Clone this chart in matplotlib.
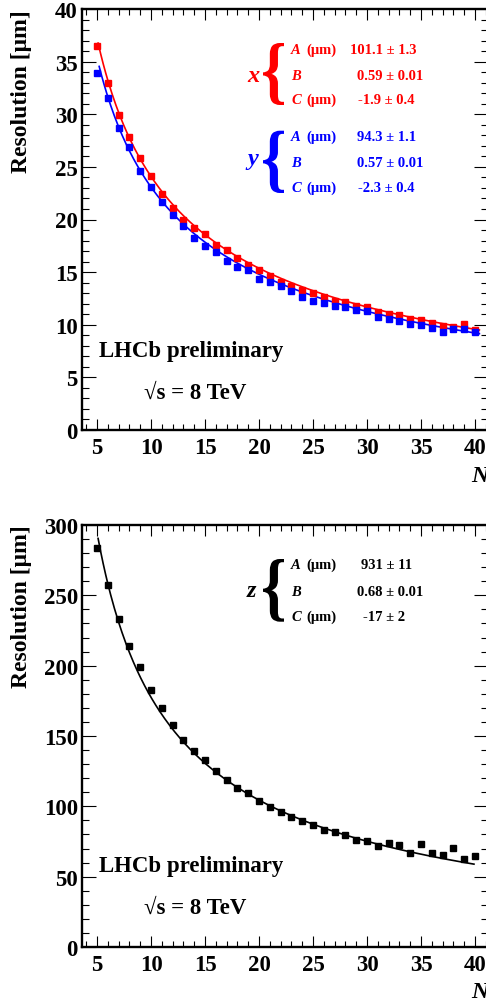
import matplotlib
matplotlib.use("Agg")
import numpy as np
import matplotlib.pyplot as plt
from matplotlib.ticker import MultipleLocator
from matplotlib.textpath import TextPath
from matplotlib.patches import PathPatch
from matplotlib.font_manager import FontProperties
from matplotlib.transforms import Affine2D

plt.rcParams['font.family'] = ['Liberation Serif', 'DejaVu Serif']
plt.rcParams['font.weight'] = 'bold'

# number of tracks in the vertex
n_tracks = list(range(5, 41))

# resolution in um
res_x = [36.5, 32.95, 29.9, 27.8, 25.85, 24.15, 22.45, 21.1, 20.0, 19.2,
         18.6, 17.6, 17.07, 16.3, 15.65, 15.24, 14.6, 14.07, 13.65, 13.27,
         13.0, 12.6, 12.29, 12.13, 11.8, 11.65, 11.2, 11.0, 10.9, 10.54,
         10.48, 10.16, 9.84, 9.78, 10.1, 9.46]
res_y = [33.9, 31.5, 28.7, 26.9, 24.6, 23.1, 21.65, 20.4, 19.4, 18.25,
         17.45, 16.9, 16.03, 15.5, 15.17, 14.38, 14.03, 13.65, 13.17, 12.6,
         12.3, 12.06, 11.8, 11.65, 11.4, 11.27, 10.7, 10.54, 10.38, 10.06,
         10.0, 9.65, 9.3, 9.6, 9.6, 9.33]
res_z = [283.4, 257.3, 233.2, 214.2, 199.3, 182.9, 169.9, 157.8, 147.0, 139.1,
         132.9, 124.9, 118.5, 113.0, 109.5, 104.0, 99.3, 96.2, 92.6, 89.6,
         86.9, 83.4, 81.5, 79.8, 76.3, 75.6, 72.0, 73.9, 72.5, 66.8,
         73.2, 66.8, 65.2, 70.2, 62.3, 64.7]

# fit sigma = A / N^B + C
fit_x = [101.1, 0.59, -1.9]
fit_y = [94.3, 0.57, -2.3]
fit_z = [931.0, 0.68, -17.0]
range_x = [5.1, 40.4]
range_y = [5.2, 40.4]
range_z = [5.1, 39.9]

par_names = ["A", "B", "C"]
par_units = ["(μm)", "", "(μm)"]
text_x = ["101.1 ± 1.3", "0.59 ± 0.01", "-1.9 ± 0.4"]
text_y = ["94.3 ± 1.1", "0.57 ± 0.01", "-2.3 ± 0.4"]
text_z = ["931 ± 11", "0.68 ± 0.01", "-17 ± 2"]

W, H = 486, 1003
fig = plt.figure(figsize=(W / 100, H / 100), dpi=100)


def fx(px):
    return px / W


def fy(py):
    return 1 - py / H


def brace(x0, x1, y0, y1, color):
    fp = FontProperties(family="Liberation Serif", weight="bold")
    tp = TextPath((0, 0), "{", size=100, prop=fp)
    ext = tp.get_extents()
    tr = (Affine2D().translate(-ext.x0, -ext.y0)
          .scale((x1 - x0) / ext.width, (y1 - y0) / ext.height)
          .translate(x0, H - y1).scale(1 / W, 1 / H))
    fig.add_artist(PathPatch(tr.transform_path(tp), transform=fig.transFigure,
                             facecolor=color, lw=0))


def fit_curve(p, r):
    n = np.linspace(r[0], r[1], 300)
    return n, p[0] / n ** p[1] + p[2]


def style_axes(ax, ymax, ymaj, ymin):
    ax.set_xlim(3.61, 41.2)
    ax.set_ylim(0, ymax)
    ax.xaxis.set_major_locator(MultipleLocator(5))
    ax.xaxis.set_minor_locator(MultipleLocator(1))
    ax.yaxis.set_major_locator(MultipleLocator(ymaj))
    ax.yaxis.set_minor_locator(MultipleLocator(ymin))
    for s in ax.spines.values():
        s.set_linewidth(1.7)
    ax.tick_params(which='both', direction='in', top=True, right=True, width=0.8)
    ax.tick_params(axis='x', which='major', length=8, pad=5, labelsize=16.5)
    ax.tick_params(axis='x', which='minor', length=4)
    ax.tick_params(axis='y', which='major', length=10, pad=3, labelsize=16.5)
    ax.tick_params(axis='y', which='minor', length=5)
    for lab in ax.get_xticklabels() + ax.get_yticklabels():
        lab.set_fontweight('bold')


def param_block(letter, rows, vals, val_x, color, letter_base, brace_y):
    fig.text(fx(247), fy(letter_base), letter, color=color, fontsize=17.5,
             style='italic', weight='bold', ha='left', va='baseline')
    brace(263, 284, brace_y[0], brace_y[1], color)
    for name, unit, val, vx, base in zip(par_names, par_units, vals, val_x, rows):
        fig.text(fx(291), fy(base), name, color=color, fontsize=10.5,
                 style='italic', weight='bold', va='baseline')
        if unit:
            fig.text(fx(306), fy(base), unit, color=color, fontsize=10.5,
                     weight='bold', va='baseline')
        fig.text(fx(vx), fy(base), val, color=color, fontsize=10.5,
                 weight='bold', va='baseline')


def labels(top_px, lhcb_base, sqrt_base, n_base):
    fig.text(fx(22), fy(top_px), "Resolution [μm]", rotation=90, fontsize=17,
             weight='bold', ha='center', va='top')
    fig.text(fx(99), fy(lhcb_base), "LHCb preliminary", fontsize=16.5,
             weight='bold', va='baseline')
    fig.text(fx(144), fy(sqrt_base), "√s = 8 TeV", fontsize=16.5,
             weight='bold', va='baseline')
    fig.text(fx(471), fy(n_base), "N", fontsize=17, style='italic',
             weight='bold', va='baseline')


# top panel: x and y resolution
ax1 = fig.add_axes([fx(82), fy(431), fx(488) - fx(82), 421 / H])
ax1.plot(n_tracks, res_x, 's', color='red', ms=5, zorder=3)
ax1.plot(n_tracks, res_y, 's', color='blue', ms=5, zorder=3)
ax1.plot(*fit_curve(fit_x, range_x), color='red', lw=1.2)
ax1.plot(*fit_curve(fit_y, range_y), color='blue', lw=1.2)
style_axes(ax1, 40, 5, 1)
param_block("x", [54, 80, 104], text_x, [350, 356.7, 358.3], 'red', 82.5, (44, 106))
param_block("y", [140.7, 166.7, 191.7], text_y, [356.7, 356.7, 358.3], 'blue', 165, (131.7, 194))
labels(10, 357, 399, 482)

# bottom panel: z resolution
ax2 = fig.add_axes([fx(82), fy(948), fx(488) - fx(82), 422 / H])
ax2.plot(n_tracks, res_z, 's', color='black', ms=5, zorder=3)
ax2.plot(*fit_curve(fit_z, range_z), color='black', lw=1.2)
style_axes(ax2, 300, 50, 10)
param_block("z", [569, 595.7, 620.7], text_z, [360.7, 356.7, 363.3], 'black', 597, (560, 622.7))
labels(525, 872, 914, 998)

fig.savefig("out.png", dpi=100)
